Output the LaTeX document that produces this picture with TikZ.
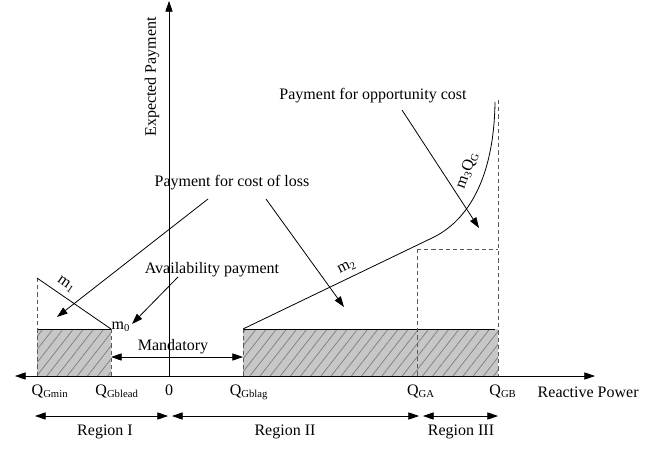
\documentclass[tikz,border=0pt]{standalone}
\usepackage{fontspec}
\setmainfont{Liberation Serif}
\usetikzlibrary{arrows.meta,patterns.meta}
\begin{document}
\begin{tikzpicture}[x=0.75pt,y=-0.75pt,
  every path/.style={line width=0.6pt},
  tip/.style={-{Triangle[length=8pt,width=5.4pt]}},
  twotip/.style={{Triangle[length=8pt,width=5.4pt]}-{Triangle[length=8pt,width=5.4pt]}},
  guide/.style={draw=black!65, dash pattern=on 3.2pt off 2.2pt},
  hatched/.style={preaction={fill=black!22},
    pattern={Lines[angle=52,distance=6pt,line width=0.55pt]}, pattern color=black!50},
  lbl/.style={font=\fontsize{12}{14}\selectfont, inner sep=1pt},
  axlbl/.style={lbl, anchor=north}]
\useasboundingbox (0,0) rectangle (670,449);

% key points on the reactive power axis
\coordinate (qmin)  at (37,376);
\coordinate (qlead) at (111,376);
\coordinate (orig)  at (169,376);
\coordinate (qlag)  at (243,376);
\coordinate (qa)    at (417,376);
\coordinate (qb)    at (498,376);

% shaded payment blocks
\path[hatched] (37,329) rectangle (111,376);
\path[hatched] (243,329) rectangle (498,376);
\draw (37,329) -- (111,329);
\draw (243,329) -- (495,329);

% dashed guide lines
\draw[guide] (37,278) -- (qmin);
\draw[guide] (111,329) -- (qlead);
\draw[guide] (243,329) -- (qlag);
\draw[guide] (417,249) -- (qa);
\draw[guide] (498,100) -- (qb);
\draw[guide] (417,249) -- (498,249);

% payment curves
\coordinate (m1top) at (37,278);
\coordinate (m0pt) at (111,329);
\draw (m1top) -- (m0pt);
\coordinate (m2start) at (243,329);
\coordinate (knee) at (432,238);
\coordinate (curvetop) at (495,102);
\draw (m2start) -- (knee) .. controls (468,221) and (494,178) .. (curvetop);

% axes
\draw[twotip] (15,376) -- (595,376);
\draw[tip] (orig) -- (169,1);

% axis labels
\node[lbl, rotate=90] (ylab) at (152,77) {Expected Payment};
\node[lbl, anchor=west] (xlab) at (536,392) {Reactive Power};
\node[axlbl] (lqmin)  at (50,383)  {Q\textsubscript{Gmin}};
\node[axlbl] (lqlead) at (117,383) {Q\textsubscript{Gblead}};
\node[axlbl] (lorig)  at (169,383) {0};
\node[axlbl] (lqlag)  at (249,383) {Q\textsubscript{Gblag}};
\node[axlbl] (lqa)    at (421,383) {Q\textsubscript{GA}};
\node[axlbl] (lqb)    at (503,383) {Q\textsubscript{GB}};

% slope labels
\node[lbl, rotate=-35] (lm1) at (66,285) {m\textsubscript{1}};
\node[lbl, anchor=west] (lm0) at (110,327) {m\textsubscript{0}};
\node[lbl, rotate=26] (lm2) at (347,267) {m\textsubscript{2}};
\node[lbl, rotate=70] (lm3) at (467,170) {m\textsubscript{3}Q\textsubscript{G}};

% mandatory band
\node[lbl] (mand) at (173,347) {Mandatory};
\coordinate (mandL) at (111,357);
\coordinate (mandR) at (243,357);
\draw[twotip] (mandL) -- (mandR);

% annotations
\node[lbl] (loss) at (232,183) {Payment for cost of loss};
\coordinate (lossA) at (208,199);
\coordinate (lossB) at (266,199);
\coordinate (lossAend) at (57,317);
\coordinate (lossBend) at (344,307);
\draw[tip] (lossA) -- (lossAend);
\draw[tip] (lossB) -- (lossBend);

\node[lbl] (avail) at (212,270) {Availability payment};
\coordinate (availA) at (178,277);
\coordinate (availend) at (132,324);
\draw[tip] (availA) -- (availend);

\node[lbl] (opp) at (373,96) {Payment for opportunity cost};
\coordinate (oppA) at (402,110);
\coordinate (oppend) at (479,228);
\draw[tip] (oppA) -- (oppend);

% regions
\coordinate (r1a) at (35,416);  \coordinate (r1b) at (168,416);
\coordinate (r2a) at (172,416); \coordinate (r2b) at (419,416);
\coordinate (r3a) at (423,416); \coordinate (r3b) at (498,416);
\draw[twotip] (r1a) -- (r1b);
\draw[twotip] (r2a) -- (r2b);
\draw[twotip] (r3a) -- (r3b);
\node[lbl] (reg1) at (105,432) {Region I};
\node[lbl] (reg2) at (285,432) {Region II};
\node[lbl] (reg3) at (461,432) {Region III};
\end{tikzpicture}
\end{document}
